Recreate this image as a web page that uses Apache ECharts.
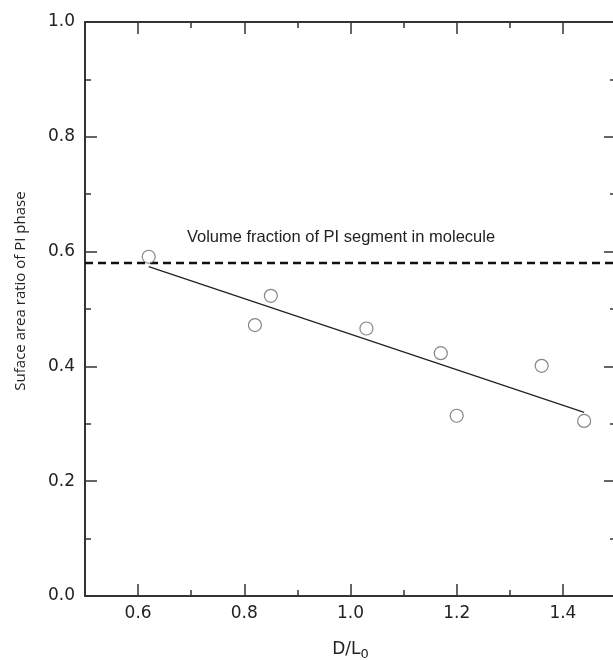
<!DOCTYPE html>
<html>
<head>
<meta charset="utf-8">
<script src="https://cdn.jsdelivr.net/npm/echarts@6/dist/echarts.min.js"></script>
<style>
  html, body { margin: 0; padding: 0; background: #fff; }
  #chart { width: 613px; height: 660px; }
</style>
</head>
<body>
<div id="chart"></div>
<script>
// measured points (D/L0, surface area ratio of PI phase)
const ratioX = [0.62, 0.82, 0.85, 1.03, 1.17, 1.20, 1.36, 1.44];
const ratioY = [0.591, 0.472, 0.523, 0.466, 0.423, 0.314, 0.401, 0.305];

// least-squares fit line, end points
const fitX = [0.62, 1.44];
const fitY = [0.574, 0.320];

// volume fraction of PI segment (dashed reference)
const volX = [0.5, 1.5];
const volY = [0.58, 0.58];

const xMajor = [0.6, 0.8, 1.0, 1.2, 1.4];
const xMinor = [0.7, 0.9, 1.1, 1.3];

const axisColor = '#333';
const tickFont = 'DejaVu Sans';

function pairs(xs, ys) {
  return xs.map((x, i) => [x, ys[i]]);
}

function xAxisOf(position, ticks, len, withLine, withLabel) {
  return {
    type: 'value',
    position: position,
    min: 0.5,
    max: 1.5,
    splitLine: { show: false },
    axisLine: { show: withLine, onZero: false, lineStyle: { color: axisColor, width: 2 } },
    axisTick: { show: true, inside: true, length: len, customValues: ticks, lineStyle: { color: axisColor, width: 1.5 } },
    axisLabel: withLabel
      ? { show: true, customValues: ticks, margin: 9, color: '#222', fontFamily: tickFont, fontSize: 17, formatter: (v) => v.toFixed(1) }
      : { show: false }
  };
}

function yAxisOf(position, withLabel) {
  return {
    type: 'value',
    position: position,
    min: 0,
    max: 1,
    interval: 0.2,
    splitLine: { show: false },
    axisLine: { show: true, onZero: false, lineStyle: { color: axisColor, width: 2 } },
    axisTick: { show: true, inside: true, length: 12, lineStyle: { color: axisColor, width: 1.5 } },
    minorTick: { show: true, splitNumber: 2, length: 6, lineStyle: { color: axisColor, width: 1.5 } },
    axisLabel: withLabel
      ? { show: true, margin: 10, color: '#222', fontFamily: tickFont, fontSize: 17, formatter: (v) => v.toFixed(1) }
      : { show: false }
  };
}

const chart = echarts.init(document.getElementById('chart'));

const bottomAxis = xAxisOf('bottom', xMajor, 12, true, true);
bottomAxis.name = '{a|D/L}{s|0}';
bottomAxis.nameLocation = 'middle';
bottomAxis.nameGap = 42;
bottomAxis.nameTextStyle = {
  rich: {
    a: { fontFamily: tickFont, fontSize: 17, color: '#222' },
    s: { fontFamily: tickFont, fontSize: 13, color: '#222', padding: [10, 0, 0, 0] }
  }
};

const option = {
  animation: false,
  backgroundColor: '#fff',
  grid: { left: 85, right: -3, top: 22, bottom: 64, containLabel: false, outerBoundsMode: 'none' },
  xAxis: [
    bottomAxis,
    xAxisOf('top', xMajor, 12, true, false),
    xAxisOf('bottom', xMinor, 6, false, false),
    xAxisOf('top', xMinor, 6, false, false)
  ],
  yAxis: [yAxisOf('left', true), yAxisOf('right', false)],
  graphic: [
    {
      type: 'text',
      x: 341,
      y: 237,
      style: {
        text: 'Volume fraction of PI segment in molecule',
        font: '16.5px "Liberation Sans"',
        fill: '#222',
        align: 'center',
        verticalAlign: 'middle'
      }
    },
    {
      // y axis title sits a little above the axis centre in the original
      type: 'text',
      x: 21,
      y: 291,
      rotation: Math.PI / 2,
      style: {
        text: 'Suface area ratio of PI phase',
        font: '15px "Open Sans"',
        fill: '#222',
        align: 'center',
        verticalAlign: 'middle'
      }
    }
  ],
  series: [
    {
      type: 'line',
      data: pairs(volX, volY),
      symbol: 'none',
      silent: true,
      lineStyle: { color: '#111', width: 2.5, type: [8, 5] }
    },
    {
      type: 'line',
      data: pairs(fitX, fitY),
      symbol: 'none',
      silent: true,
      lineStyle: { color: '#222', width: 1.3 }
    },
    {
      type: 'scatter',
      data: pairs(ratioX, ratioY),
      symbol: 'circle',
      symbolSize: 13,
      itemStyle: { color: '#fff', borderColor: '#666', borderWidth: 1.2 },
      z: 5
    }
  ]
};

chart.setOption(option);
</script>
</body>
</html>
